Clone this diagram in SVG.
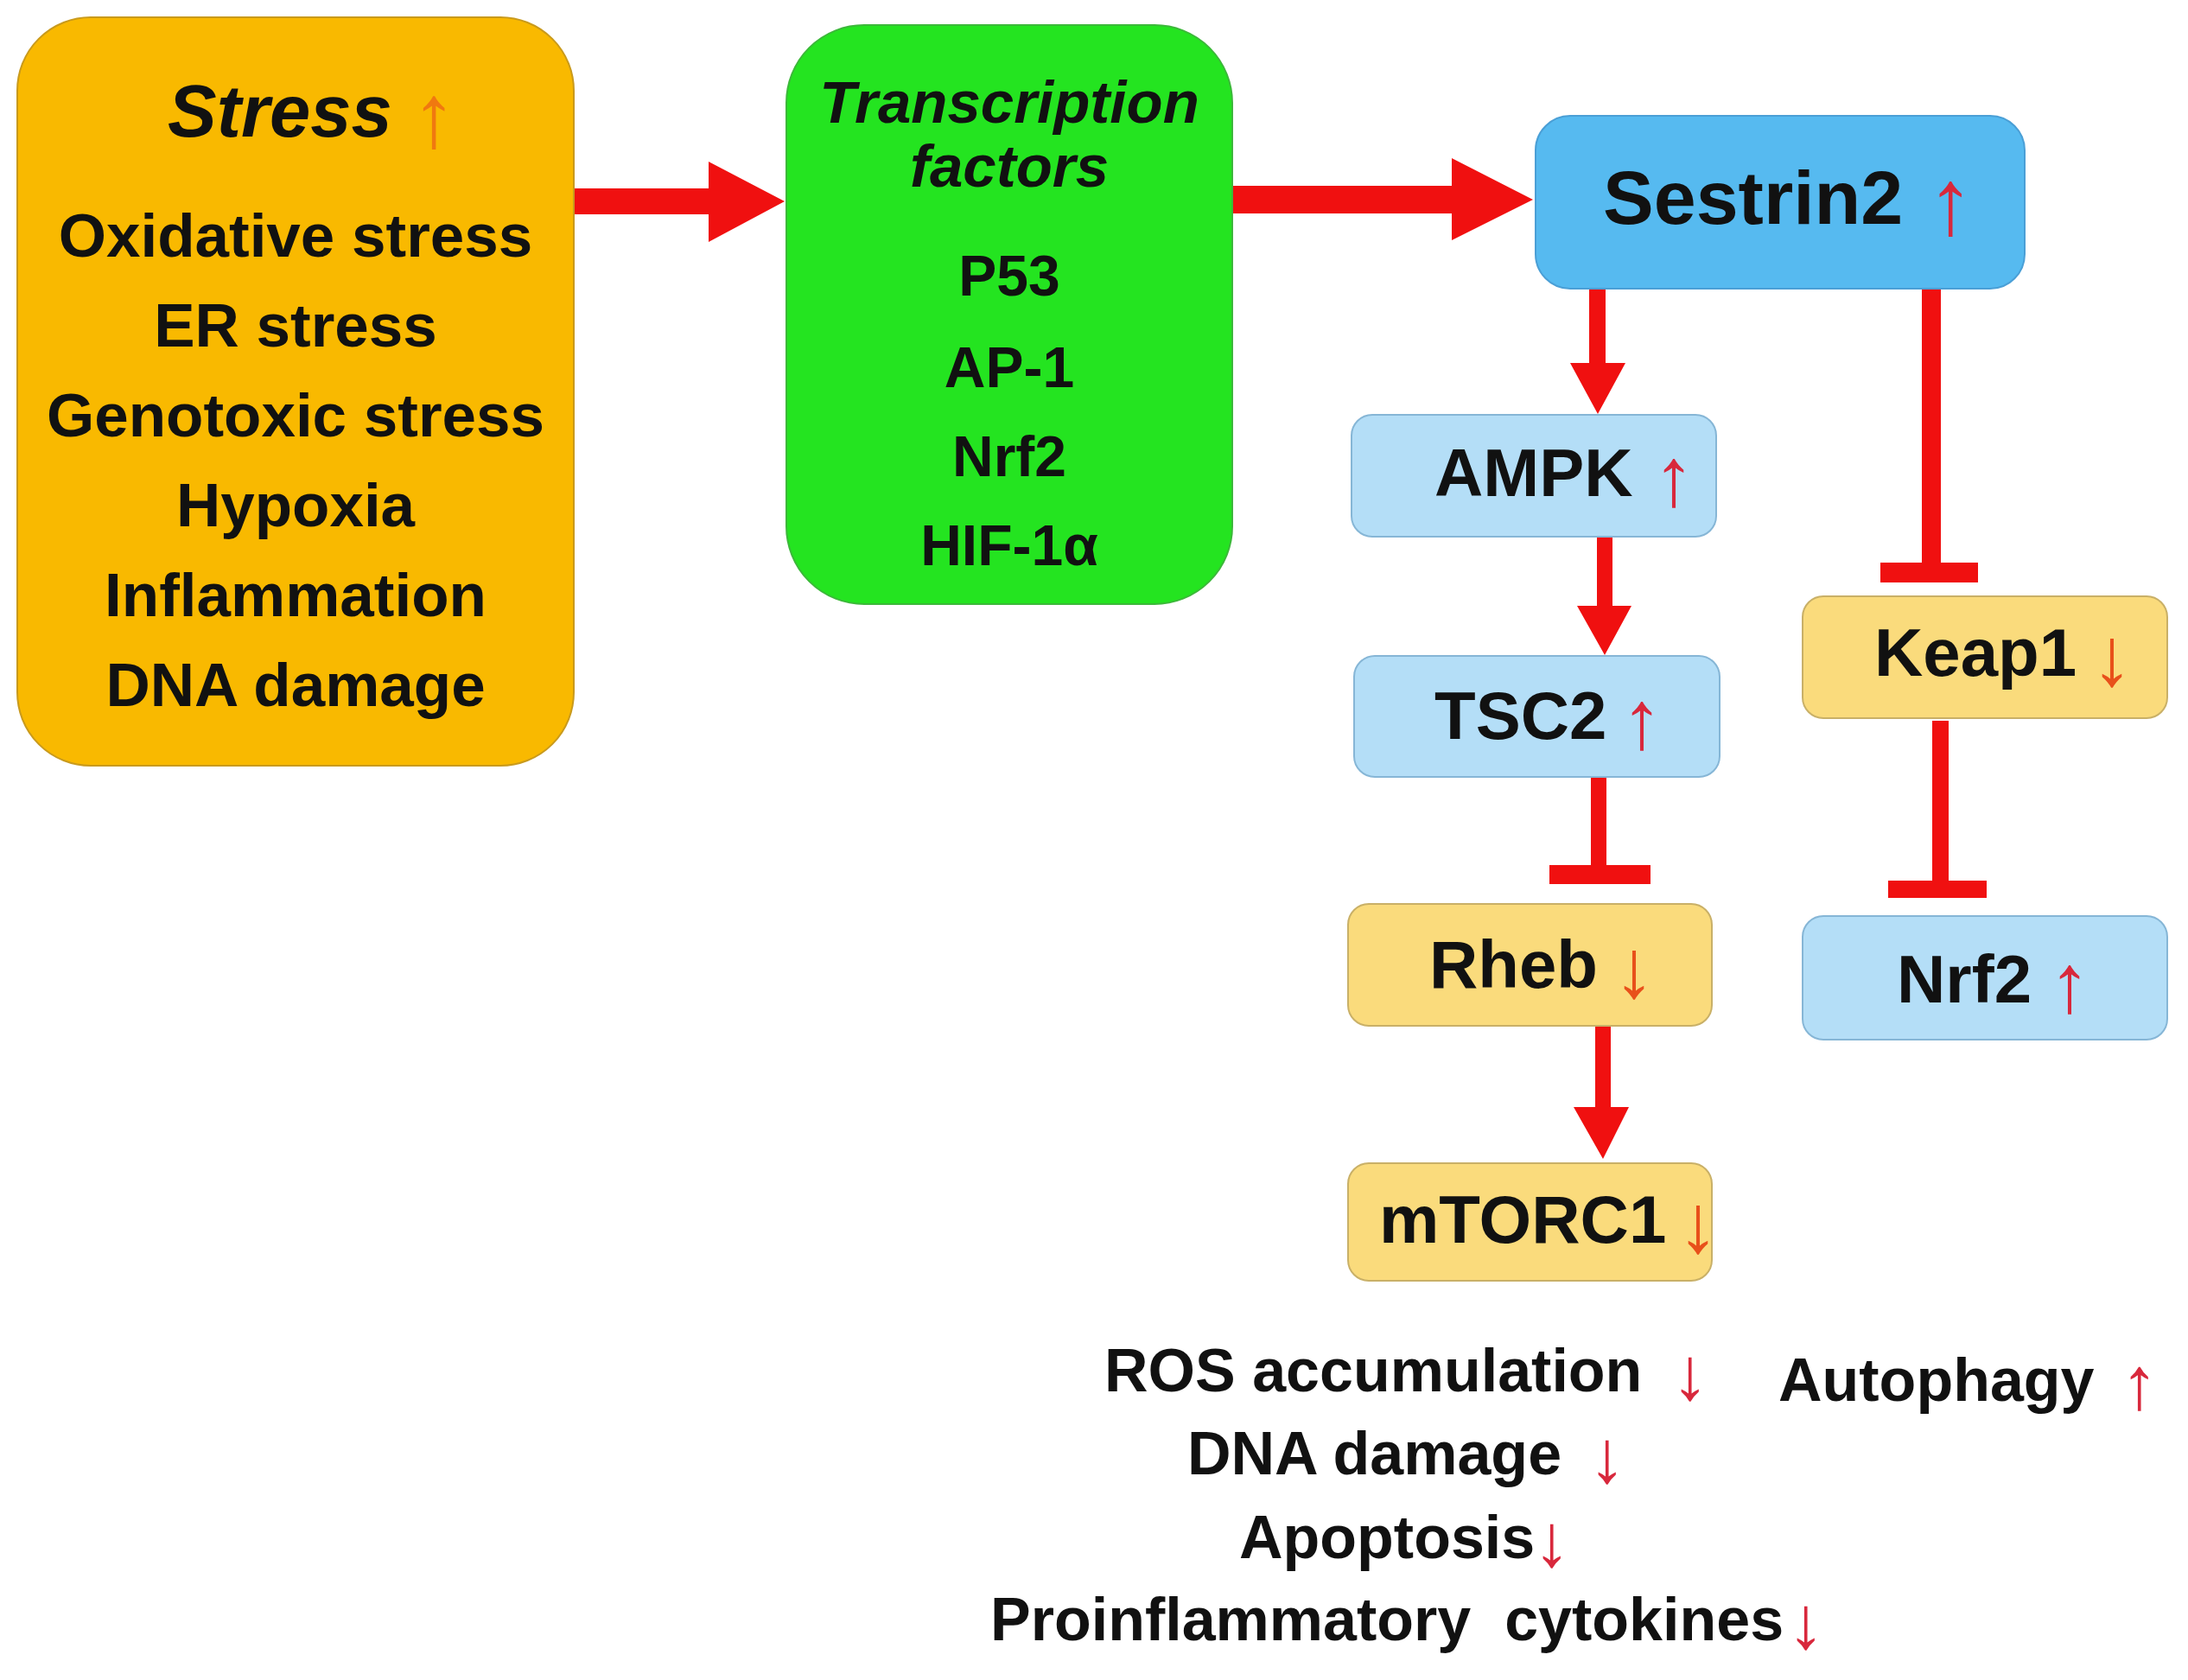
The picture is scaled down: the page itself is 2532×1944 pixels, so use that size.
<svg xmlns="http://www.w3.org/2000/svg" width="2532" height="1944" viewBox="0 0 2532 1944">
<style>
text{font-family:"Liberation Sans",Arial,sans-serif;font-weight:bold;fill:#111}
.it{font-style:italic}
.ar{font-weight:normal;font-style:normal;font-size:123%}
.up{fill:#d8283c}
.dn{fill:#e8501a}
.or{fill:#f07810}
.f71{font-size:71px}
.f66{font-size:66px}
.f78{font-size:78px}
.f70{font-size:70px}
.mid{text-anchor:middle}
.lb{fill:#b4def7;stroke:#86b6d6;stroke-width:2}
.ly{fill:#fadb7c;stroke:#c9b067;stroke-width:2}
.red{fill:#f01010}
</style>
<rect width="2532" height="1944" fill="#ffffff"/>
<g id="connectors">
<polygon class="red" points="664,218 820,218 820,187 908,233 820,280 820,248 664,248"/>
<polygon class="red" points="1426,215 1680,215 1680,183 1774,231 1680,278 1680,247 1426,247"/>
<polygon class="red" points="1839,334 1858,334 1858,420 1881,420 1849,479 1817,420 1839,420"/>
<rect class="red" x="2224" y="334" width="22" height="320"/>
<rect class="red" x="2176" y="651" width="113" height="23"/>
<polygon class="red" points="1848,621 1866,621 1866,701 1888,701 1857,758 1825,701 1848,701"/>
<rect class="red" x="1841" y="899" width="18" height="104"/>
<rect class="red" x="1793" y="1001" width="117" height="22"/>
<polygon class="red" points="1846,1187 1864,1187 1864,1281 1885,1281 1855,1341 1821,1281 1846,1281"/>
<rect class="red" x="2236" y="834" width="19" height="187"/>
<rect class="red" x="2185" y="1019" width="114" height="20"/>
</g>
<g id="stress">
<rect x="20" y="20" width="644" height="866" rx="85" fill="#f9b900" stroke="#c99a1c" stroke-width="2"/>
<text x="194" y="158" class="it" font-size="85">Stress<tspan x="476" dy="0.11em" class="ar or">↑</tspan></text>
<text x="342" y="297" class="f71 mid">Oxidative stress</text>
<text x="342" y="401" class="f71 mid">ER stress</text>
<text x="342" y="505" class="f71 mid">Genotoxic stress</text>
<text x="342" y="609" class="f71 mid">Hypoxia</text>
<text x="342" y="713" class="f71 mid">Inflammation</text>
<text x="342" y="817" class="f71 mid">DNA damage</text>
</g>
<g id="transcription-factors">
<rect x="910" y="29" width="516" height="670" rx="90" fill="#24e420" stroke="#3cb83a" stroke-width="2"/>
<text x="1168" y="142" class="it mid" font-size="69">Transcription</text>
<text x="1168" y="216" class="it mid" font-size="69">factors</text>
<text x="1168" y="342" class="f66 mid">P53</text>
<text x="1168" y="448" class="f66 mid">AP-1</text>
<text x="1168" y="551" class="f66 mid">Nrf2</text>
<text x="1168" y="654" class="f66 mid">HIF-1α</text>
</g>
<g id="sestrin2">
<rect x="1777" y="134" width="566" height="200" rx="40" fill="#56baf0" stroke="#4a9fd6" stroke-width="2"/>
<text x="1855" y="259" font-size="88">Sestrin2<tspan x="2230" dy="0.11em" class="ar up">↑</tspan></text>
</g>
<g id="ampk">
<rect x="1564" y="480" width="422" height="141" rx="24" class="lb"/>
<text x="1660" y="574" class="f78">AMPK<tspan x="1913" dy="0.11em" class="ar up">↑</tspan></text>
</g>
<g id="tsc2">
<rect x="1567" y="759" width="423" height="140" rx="24" class="lb"/>
<text x="1660" y="855" class="f78">TSC2<tspan x="1876" dy="0.11em" class="ar up">↑</tspan></text>
</g>
<g id="rheb">
<rect x="1560" y="1046" width="421" height="141" rx="24" class="ly"/>
<text x="1654" y="1143" class="f78">Rheb<tspan x="1867" dy="0.11em" class="ar dn">↓</tspan></text>
</g>
<g id="mtorc1">
<rect x="1560" y="1346" width="421" height="136" rx="24" class="ly"/>
<text x="1596" y="1438" class="f78">mTORC1<tspan x="1941" dy="0.11em" class="ar dn">↓</tspan></text>
</g>
<g id="keap1">
<rect x="2086" y="690" width="422" height="141" rx="24" class="ly"/>
<text x="2169" y="782" class="f78">Keap1<tspan x="2420" dy="0.11em" class="ar dn">↓</tspan></text>
</g>
<g id="nrf2">
<rect x="2086" y="1060" width="422" height="143" rx="24" class="lb"/>
<text x="2195" y="1160" class="f78">Nrf2<tspan x="2371" dy="0.11em" class="ar up">↑</tspan></text>
</g>
<g id="outcomes">
<text x="1278" y="1610" class="f70">ROS accumulation<tspan x="1934" dy="0.11em" class="ar up">↓</tspan></text>
<text x="1374" y="1706" class="f70">DNA damage<tspan x="1838" dy="0.11em" class="ar up">↓</tspan></text>
<text x="1434" y="1803" class="f70">Apoptosis<tspan x="1774" dy="0.11em" class="ar up">↓</tspan></text>
<text x="1146" y="1898" class="f70" xml:space="preserve">Proinflammatory  cytokines<tspan x="2068" dy="0.11em" class="ar up">↓</tspan></text>
<text x="2058" y="1621" class="f70">Autophagy<tspan x="2454" dy="0.11em" class="ar up">↑</tspan></text>
</g>
</svg>
